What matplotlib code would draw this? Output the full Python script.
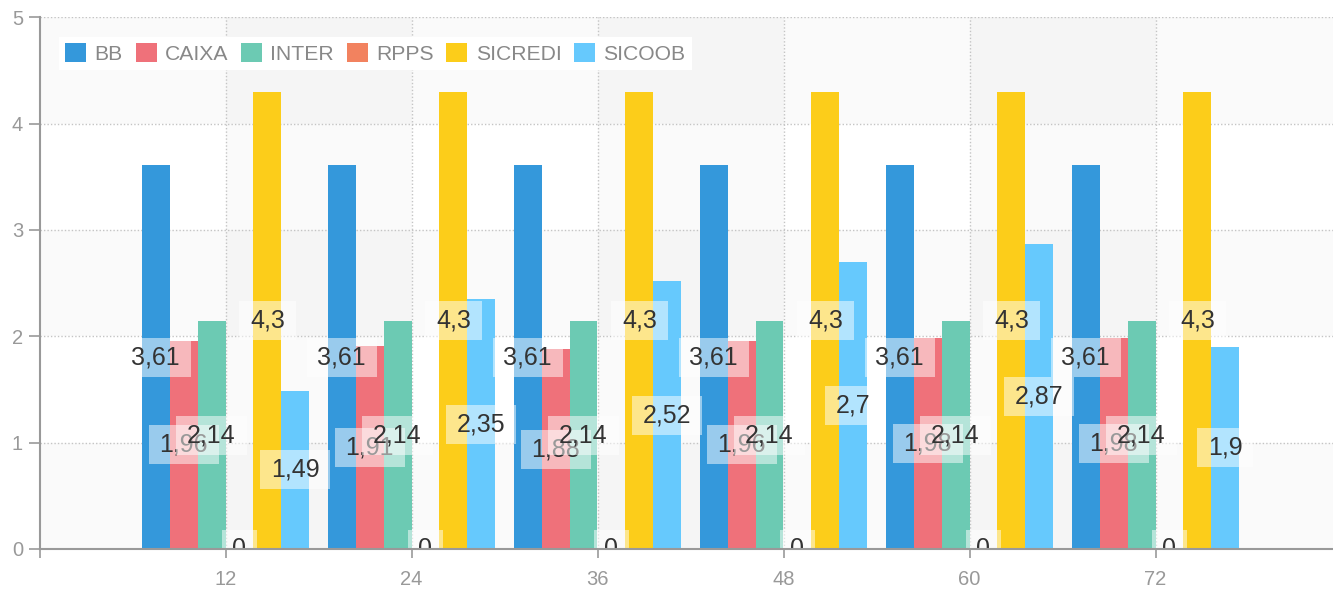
import numpy as np
import matplotlib
matplotlib.use("Agg")
import matplotlib.pyplot as plt
from matplotlib.path import Path

# ---------------- data ----------------
categories = ["12", "24", "36", "48", "60", "72"]
series_names = ["BB", "CAIXA", "INTER", "RPPS", "SICREDI", "SICOOB"]
bb = [3.61, 3.61, 3.61, 3.61, 3.61, 3.61]
caixa = [1.96, 1.91, 1.88, 1.96, 1.98, 1.98]
inter = [2.14, 2.14, 2.14, 2.14, 2.14, 2.14]
rpps = [0, 0, 0, 0, 0, 0]
sicredi = [4.3, 4.3, 4.3, 4.3, 4.3, 4.3]
sicoob = [1.49, 2.35, 2.52, 2.7, 2.87, 1.9]
y_ticks = [0, 1, 2, 3, 4, 5]

series_values = [bb, caixa, inter, rpps, sicredi, sicoob]
colors = ["#3498db", "#ef717a", "#6ccab3", "#f2825f", "#fccd1a", "#66c9fd"]

FONT = ["Liberation Sans", "DejaVu Sans"]

W, H = 1333, 591
fig = plt.figure(figsize=(W / 100, H / 100), dpi=100)
left_px, top_px, bottom_px = 39.5, 17.3, 549
ax = fig.add_axes([left_px / W, (H - bottom_px) / H, (W - left_px) / W, (bottom_px - top_px) / H])

x = np.arange(1, len(categories) + 1)
ax.set_xlim(0, (W - left_px) / 186.0)
ax.set_ylim(0, 5)

# alternating split areas
for i in range(1, 7, 2):
    ax.axvspan(i, i + 1, color="k", alpha=0.02, lw=0, zorder=0)
for j in range(0, 5, 2):
    ax.axhspan(j, j + 1, color="k", alpha=0.02, lw=0, zorder=0)

# grid
for yv in y_ticks[1:]:
    ax.axhline(yv, color="#c4c4c4", lw=1, ls=(0, (1, 1.5)), zorder=0.5)
for xv in x:
    ax.axvline(xv, color="#c4c4c4", lw=1, ls=(0, (1, 1.5)), zorder=0.5)

n = len(series_names)
bw = 0.15
for k, (name, vals, c) in enumerate(zip(series_names, series_values, colors)):
    off = (k - (n - 1) / 2) * bw
    ax.bar(x + off, vals, width=bw, color=c, label=name, zorder=2, linewidth=0)


def label_box(x0, y0, width, height, mutation_size):
    px = 0.43 * mutation_size
    py = 0.3 * mutation_size
    verts = [(x0 - px, y0 - py), (x0 + width + px, y0 - py),
             (x0 + width + px, y0 + height + py), (x0 - px, y0 + height + py),
             (x0 - px, y0 - py)]
    return Path(verts, closed=True)


def fmt(v):
    return ("%g" % v).replace(".", ",")


for k, vals in enumerate(series_values):
    off = (k - (n - 1) / 2) * bw
    for xi, v in zip(x, vals):
        ax.text(xi + off, v / 2, fmt(v), ha="center", va="center",
                fontsize=18, family=FONT, color="#333333",
                bbox=dict(boxstyle=label_box, fc=(1, 1, 1, 0.5), ec="none"),
                zorder=5, clip_on=True)

# axes styling
for s in ["top", "right"]:
    ax.spines[s].set_visible(False)
for s in ["left", "bottom"]:
    ax.spines[s].set_color("#999999")
    ax.spines[s].set_linewidth(1.5)
    ax.spines[s].set_zorder(6)

ax.set_xticks(np.arange(0, 7))
ax.set_xticklabels([""] + categories)
ax.set_yticks(y_ticks)
ax.set_yticklabels([str(t) for t in y_ticks])
ax.tick_params(axis="x", length=6.5, width=1.2, color="#999999", pad=8.8,
               labelsize=14.5, labelcolor="#999999")
ax.tick_params(axis="y", length=7.9, width=1.2, color="#999999", pad=4.0,
               labelsize=14.5, labelcolor="#999999")
for lab in ax.get_xticklabels() + ax.get_yticklabels():
    lab.set_family(FONT)

leg = ax.legend(ncol=6, loc="upper left", bbox_to_anchor=(59 / W, 1 - 37 / H),
                bbox_transform=fig.transFigure, borderaxespad=0,
                frameon=True, fancybox=False, facecolor="white", edgecolor="none",
                framealpha=1, prop={"family": FONT, "size": 15.2},
                labelcolor="#888888", handlelength=1.0, handleheight=1.0,
                handletextpad=0.39, columnspacing=0.6, borderpad=0.3)
leg.set_zorder(7)

fig.savefig("out.png", dpi=100)
